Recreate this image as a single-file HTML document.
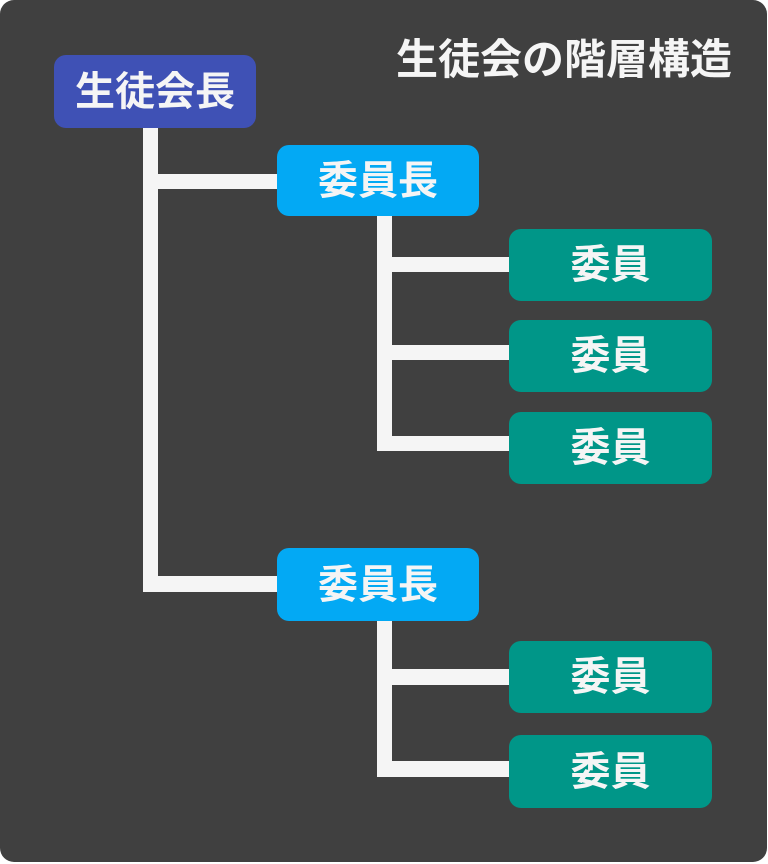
<!DOCTYPE html>
<html><head><meta charset="utf-8"><style>
html,body{margin:0;padding:0;background:#fff;}
body{width:768px;height:864px;position:relative;overflow:hidden;font-family:"Liberation Sans","Noto Sans CJK JP",sans-serif;}
.bg{position:absolute;left:0;top:0;width:767px;height:862px;background:#404040;border-radius:14px;}
.l{position:absolute;background:#f5f5f5;}
.b{position:absolute;border-radius:12px;color:#f5f5f5;font-weight:bold;font-size:40px;display:flex;align-items:center;justify-content:center;line-height:1;}
.p{background:#3f51b5;}
.c{background:#03a9f4;}
.m{background:#009688;}
.t{position:absolute;left:396px;top:37px;color:#f5f5f5;font-weight:bold;font-size:42px;line-height:46px;white-space:nowrap;}
</style></head><body>
<div class="bg"></div>
<div class="t">生徒会の階層構造</div>
<div class="l" style="left:143px;top:125px;width:15px;height:467px"></div>
<div class="l" style="left:143px;top:174px;width:140px;height:15px"></div>
<div class="l" style="left:143px;top:576px;width:140px;height:16px"></div>
<div class="l" style="left:377px;top:210px;width:15px;height:241px"></div>
<div class="l" style="left:377px;top:257px;width:138px;height:15px"></div>
<div class="l" style="left:377px;top:345px;width:138px;height:15px"></div>
<div class="l" style="left:377px;top:436px;width:138px;height:15px"></div>
<div class="l" style="left:377px;top:615px;width:15px;height:162px"></div>
<div class="l" style="left:377px;top:669px;width:138px;height:16px"></div>
<div class="l" style="left:377px;top:761px;width:138px;height:16px"></div>
<div class="b p" style="left:54px;top:55px;width:202px;height:73px">生徒会長</div>
<div class="b c" style="left:277px;top:145px;width:202px;height:71px">委員長</div>
<div class="b c" style="left:277px;top:548px;width:202px;height:73px">委員長</div>
<div class="b m" style="left:509px;top:229px;width:203px;height:72px">委員</div>
<div class="b m" style="left:509px;top:320px;width:203px;height:72px">委員</div>
<div class="b m" style="left:509px;top:412px;width:203px;height:72px">委員</div>
<div class="b m" style="left:509px;top:641px;width:203px;height:72px">委員</div>
<div class="b m" style="left:509px;top:735px;width:203px;height:73px">委員</div>
</body></html>
